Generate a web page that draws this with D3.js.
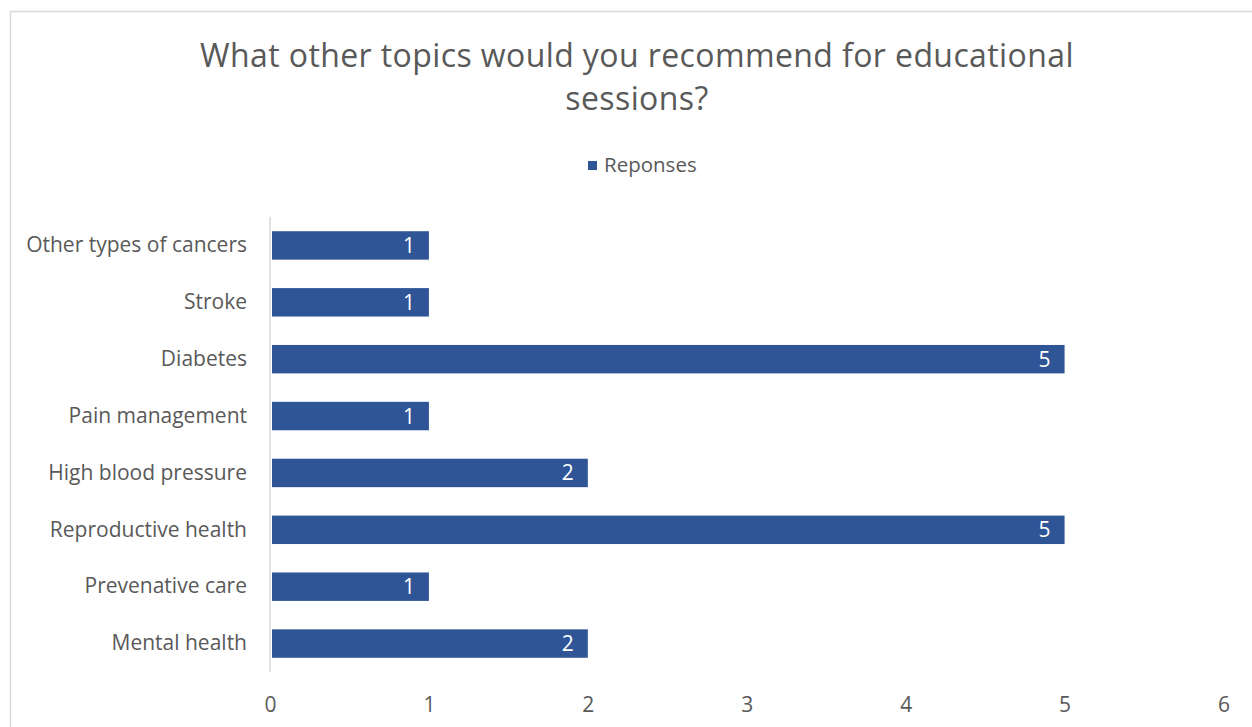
<!DOCTYPE html>
<html>
<head>
<meta charset="utf-8">
<script src="https://cdn.jsdelivr.net/npm/d3@7"></script>
<style>
  html, body { margin: 0; padding: 0; background: #ffffff; }
  svg { display: block; }
  text { font-family: "Open Sans", sans-serif; }
</style>
</head>
<body>
<svg id="chart" width="1252" height="727"></svg>
<script>
// Survey responses: recommended topics for educational sessions
const categories = [
  "Other types of cancers",
  "Stroke",
  "Diabetes",
  "Pain management",
  "High blood pressure",
  "Reproductive health",
  "Prevenative care",
  "Mental health"
];
const responses = [1, 1, 5, 1, 2, 5, 1, 2];
const xTicks = [0, 1, 2, 3, 4, 5, 6];
const titleLines = ["What other topics would you recommend for educational", "sessions?"];
const seriesName = "Reponses";

const W = 1252, H = 727;
const barColor = "#2F5597";
const textColor = "#595959";
const font = "'Open Sans', sans-serif";

const svg = d3.select("#chart");

// chart area border
svg.append("rect")
  .attr("x", 10.5).attr("y", 11.5)
  .attr("width", W + 20).attr("height", H + 20)
  .attr("fill", "#ffffff")
  .attr("stroke", "#d9d9d9").attr("stroke-width", 1.5);

// title
svg.append("g").selectAll("text")
  .data(titleLines)
  .join("text")
  .attr("x", 637)
  .attr("y", (d, i) => 67 + i * 43)
  .attr("text-anchor", "middle")
  .attr("font-size", 32)
  .attr("letter-spacing", 0.4)
  .attr("fill", textColor)
  .text(d => d);

// legend
const legend = svg.append("g");
legend.append("rect")
  .attr("x", 588).attr("y", 161)
  .attr("width", 9).attr("height", 9)
  .attr("fill", barColor);
legend.append("text")
  .attr("x", 604).attr("y", 172)
  .attr("font-size", 20.5)
  .attr("fill", textColor)
  .text(seriesName);

// scales
const x = d3.scaleLinear().domain([0, 6]).range([270, 1223.5]);
const y = d3.scaleBand().domain(categories).range([217, 672]).paddingInner(0.5).paddingOuter(0.25);

// bars
svg.append("g").selectAll("rect")
  .data(categories)
  .join("rect")
  .attr("x", x(0) + 2)
  .attr("y", d => y(d))
  .attr("width", (d, i) => x(responses[i]) - x(0) - 2)
  .attr("height", y.bandwidth())
  .attr("fill", barColor);

// value labels, inside end
svg.append("g").selectAll("text")
  .data(categories)
  .join("text")
  .attr("x", (d, i) => x(responses[i]) - 14)
  .attr("y", d => y(d) + y.bandwidth() / 2)
  .attr("dy", "0.36em")
  .attr("text-anchor", "end")
  .attr("font-size", 21)
  .attr("fill", "#ffffff")
  .text((d, i) => responses[i]);

// vertical category axis
const yAxis = svg.append("g")
  .attr("transform", `translate(${x(0)},0)`)
  .call(d3.axisLeft(y).tickSize(0).tickPadding(23));
yAxis.select(".domain").attr("stroke", "#d9d9d9").attr("stroke-width", 1.5)
  .attr("d", "M0,217V672");
yAxis.selectAll("text")
  .attr("font-size", 21)
  .attr("font-family", font)
  .attr("fill", textColor);

// horizontal value axis (labels only)
const xAxis = svg.append("g")
  .attr("transform", "translate(0,672)")
  .call(d3.axisBottom(x).tickValues(xTicks).tickSize(0).tickPadding(25).tickFormat(d3.format("d")));
xAxis.select(".domain").remove();
xAxis.selectAll("text")
  .attr("font-size", 21)
  .attr("font-family", font)
  .attr("fill", textColor);
</script>
</body>
</html>
